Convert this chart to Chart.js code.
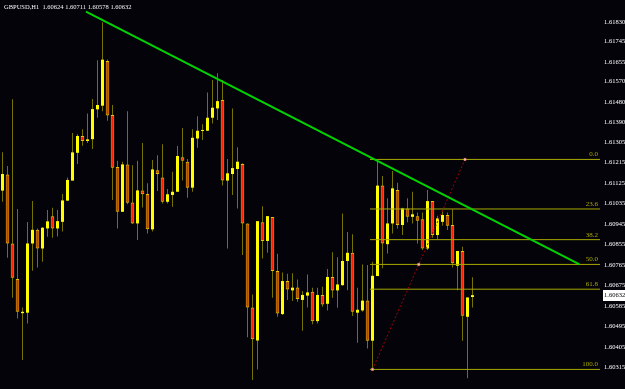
<!DOCTYPE html>
<html>
<head>
<meta charset="utf-8">
<script src="https://cdn.jsdelivr.net/npm/chart.js@4.4.1/dist/chart.umd.min.js"></script>
<style>
html,body{margin:0;padding:0;background:#04030a;overflow:hidden;}
#wrap{width:625px;height:389px;position:relative;}
canvas{display:block;background:#04030a;}
</style>
</head>
<body>
<div id="wrap"><canvas id="c" width="625" height="389"></canvas></div>
<script>
// ---------- data ----------
const symbolTitle = "GBPUSD,H1";
const opens = [1.61091,1.61162,1.60859,1.60703,1.60553,1.60555,1.60859,1.60919,1.60837,1.60925,
1.60979,1.60925,1.60954,1.61047,1.61135,1.61257,1.61331,1.61309,1.61317,1.61448,
1.61464,1.61660,1.61423,1.61195,1.60998,1.61206,1.61039,1.60947,1.61092,1.61076,
1.60921,1.61181,1.61149,1.61042,1.61072,1.61086,1.61238,1.61218,1.61104,1.61320,
1.61353,1.61354,1.61411,1.61452,1.61489,1.61135,1.61164,1.61186,1.61208,1.60947,
1.60578,1.60433,1.60952,1.60870,1.60975,1.60738,1.60549,1.60694,1.60653,1.60666,
1.60611,1.60630,1.60647,1.60518,1.60633,1.60594,1.60712,1.60653,1.60676,1.60782,
1.60818,1.60555,1.60565,1.60609,1.60432,1.60716,1.61113,1.60856,1.60947,1.61094,
1.60940,1.61013,1.60976,1.60979,1.60965,1.60837,1.61045,1.60896,1.60954,1.60984,
1.60940,1.60761,1.60826,1.60537,1.60624];
const highs = [1.61259,1.61199,1.61492,1.61010,1.60578,1.60953,1.61045,1.60925,1.60931,1.61006,
1.61016,1.61006,1.61076,1.61149,1.61344,1.61338,1.61360,1.61430,1.61493,1.61664,
1.61830,1.61667,1.61467,1.61222,1.61218,1.61440,1.61202,1.61222,1.61300,1.61123,
1.61225,1.61246,1.61295,1.61098,1.61174,1.61287,1.61366,1.61230,1.61361,1.61418,
1.61382,1.61522,1.61577,1.61606,1.61577,1.61230,1.61452,1.61281,1.61211,1.60947,
1.60635,1.60957,1.61022,1.60979,1.60975,1.60814,1.60731,1.60726,1.60728,1.60701,
1.60650,1.60723,1.60665,1.60665,1.60669,1.60747,1.60820,1.60799,1.60991,1.60909,
1.60900,1.60665,1.60767,1.60764,1.60779,1.61228,1.61155,1.61057,1.61177,1.61126,
1.61016,1.61057,1.61086,1.60995,1.60995,1.61094,1.61045,1.60981,1.61001,1.60995,
1.61009,1.60826,1.60845,1.60622,1.60711];
const lows = [1.61042,1.60796,1.60621,1.60530,1.60347,1.60508,1.60739,1.60753,1.60779,1.60889,
1.60884,1.60890,1.60911,1.61047,1.61135,1.61208,1.61288,1.61300,1.61274,1.61411,
1.61440,1.61398,1.61050,1.60925,1.60998,1.61031,1.60944,1.60874,1.61017,1.60903,
1.60911,1.61089,1.61035,1.61035,1.61020,1.61086,1.61135,1.61060,1.61086,1.61279,
1.61313,1.61353,1.61386,1.61401,1.61113,1.60837,1.61072,1.61013,1.60808,1.60447,
1.60259,1.60306,1.60793,1.60818,1.60621,1.60537,1.60545,1.60611,1.60606,1.60603,
1.60476,1.60578,1.60504,1.60508,1.60581,1.60565,1.60621,1.60577,1.60673,1.60654,
1.60540,1.60423,1.60559,1.60398,1.60306,1.60716,1.60750,1.60815,1.60903,1.60925,
1.60896,1.60952,1.60947,1.60859,1.60830,1.60830,1.60884,1.60878,1.60937,1.60918,
1.60753,1.60654,1.60432,1.60267,1.60578];
const closes = [1.61164,1.60859,1.60709,1.60559,1.60559,1.60859,1.60919,1.60837,1.60928,1.60956,
1.60925,1.60957,1.61048,1.61138,1.61259,1.61331,1.61309,1.61316,1.61449,1.61467,
1.61666,1.61421,1.61192,1.60998,1.61206,1.61038,1.60947,1.61092,1.61075,1.60921,
1.61184,1.61164,1.61042,1.61075,1.61086,1.61243,1.61222,1.61104,1.61323,1.61354,
1.61357,1.61411,1.61455,1.61484,1.61136,1.61167,1.61190,1.61218,1.60947,1.60578,
1.60438,1.60957,1.60870,1.60979,1.60738,1.60552,1.60694,1.60657,1.60665,1.60615,
1.60633,1.60644,1.60518,1.60633,1.60591,1.60712,1.60653,1.60679,1.60782,1.60818,
1.60559,1.60568,1.60608,1.60432,1.60717,1.61113,1.60859,1.60947,1.61101,1.60940,
1.61013,1.60976,1.60987,1.60959,1.60837,1.61045,1.60896,1.60969,1.60984,1.60937,
1.60772,1.60826,1.60542,1.60622,1.60632];
const yTicks = [1.61830,1.61745,1.61655,1.61570,1.61480,1.61390,1.61305,1.61215,1.61125,
1.61035,1.60945,1.60855,1.60765,1.60675,1.60585,1.60495,1.60405,1.60315];
const fibLevels = [0, 23.6, 38.2, 50.0, 61.8, 100.0];
const fibLabels = ["0.0","23.6","38.2","50.0","61.8","100.0"];
const fibHigh = 1.61228, fibLow = 1.60306;
const fibLineX = [73.5, 119.5];
const fibAnchorX = [74, 92.5];
const trendX = [16.7, 115.4];
const trendY = [1.61877, 1.60767];
const slotCount = 120;
const yMin = 1.60220, yMax = 1.61928;

// ---------- build ----------
const FONT = '"Liberation Serif", "Times New Roman", serif';
const BULL = '#ffff00', BEAR = '#ff1e00', BEAR_EDGE = '#e8c000', WICK = '#767200';
const idx = opens.map((_, i) => i);
const isBull = idx.map(i => closes[i] >= opens[i]);
const bullData = idx.filter(i => isBull[i]).map(i => ({x: i, y: [opens[i], closes[i]]}));
const bearData = idx.filter(i => !isBull[i]).map(i => ({x: i, y: [opens[i], closes[i]]}));
const wickData = idx.map(i => ({x: i, y: [lows[i], highs[i]]}));

const fibDatasets = fibLevels.map(lv => {
  const p = fibHigh - (fibHigh - fibLow) * lv / 100;
  return {
    type: 'line', order: 5,
    data: [{x: fibLineX[0], y: p}, {x: fibLineX[1], y: p}],
    borderColor: '#a8a800', borderWidth: 1, pointRadius: 0, pointHoverRadius: 0
  };
});
const fibMid = (fibHigh + fibLow) / 2;

const overlay = {
  id: 'overlay',
  afterDraw(chart) {
    const {ctx, scales: {x, y}} = chart;
    ctx.save();
    // fib labels
    ctx.font = '7px ' + FONT;
    ctx.fillStyle = '#a8a800';
    ctx.textAlign = 'right';
    ctx.textBaseline = 'bottom';
    fibLevels.forEach((lv, k) => {
      const p = fibHigh - (fibHigh - fibLow) * lv / 100;
      ctx.fillText(fibLabels[k], x.getPixelForValue(fibLineX[1]) - 2, Math.round(y.getPixelForValue(p)) - 1);
    });
    // title
    const n = opens.length - 1;
    ctx.font = '6.5px ' + FONT;
    ctx.fillStyle = '#f4f4f4';
    ctx.textAlign = 'left';
    ctx.textBaseline = 'middle';
    ctx.fillText(symbolTitle + '  ' + [opens[n], highs[n], lows[n], closes[n]].map(v => v.toFixed(5)).join(' '), 4, 7);
    // current price box
    const py = Math.round(y.getPixelForValue(closes[n]));
    ctx.fillStyle = '#ffffff';
    ctx.fillRect(603, py - 5, 22, 11);
    ctx.fillStyle = '#000000';
    ctx.font = '6.5px ' + FONT;
    ctx.fillText(closes[n].toFixed(5), 604, py + 0.5);
    ctx.restore();
  }
};

new Chart(document.getElementById('c'), {
  type: 'bar',
  data: {
    datasets: [
      {
        type: 'line', order: 2,
        data: [{x: trendX[0], y: trendY[0]}, {x: trendX[1], y: trendY[1]}],
        borderColor: '#00d400', borderWidth: 2, pointRadius: 0, pointHoverRadius: 0
      },
      {
        type: 'line', order: 3,
        data: [{x: fibAnchorX[0], y: fibLow}, {x: fibAnchorX[1], y: fibHigh}],
        borderColor: '#a00000', borderWidth: 1, borderDash: [2, 2], pointRadius: 0, pointHoverRadius: 0
      },
      {
        type: 'scatter', order: 1,
        data: [{x: fibAnchorX[0], y: fibLow}, {x: (fibAnchorX[0] + fibAnchorX[1]) / 2, y: fibMid}, {x: fibAnchorX[1], y: fibHigh}],
        pointStyle: 'rect', pointRadius: 1.5, pointHoverRadius: 1.5,
        backgroundColor: '#ffc8c8', borderColor: '#ff8080', borderWidth: 0.5
      },
      ...fibDatasets,
      {
        type: 'bar', order: 9, grouped: false,
        data: bullData,
        maxBarThickness: 3,
        backgroundColor: BULL, borderWidth: 0, minBarLength: 1
      },
      {
        type: 'bar', order: 9, grouped: false,
        data: bearData,
        maxBarThickness: 4,
        backgroundColor: BEAR, borderColor: BEAR_EDGE,
        borderWidth: 1, borderSkipped: false, minBarLength: 1
      },
      {
        type: 'bar', order: 10, grouped: false,
        data: wickData,
        maxBarThickness: 1,
        backgroundColor: WICK, borderWidth: 0
      }
    ]
  },
  options: {
    responsive: false,
    animation: false,
    events: [],
    layout: {padding: 0, autoPadding: false},
    plugins: {legend: {display: false}, tooltip: {enabled: false}, title: {display: false}},
    scales: {
      x: {
        type: 'linear', min: -0.5, max: slotCount - 0.5, display: false, offset: false
      },
      y: {
        type: 'linear', position: 'right', min: yMin, max: yMax,
        grid: {display: false, drawTicks: false},
        border: {display: false},
        afterBuildTicks: s => { s.ticks = yTicks.map(v => ({value: v})); },
        afterFit: s => { s.width = 25; s.paddingTop = 0; s.paddingBottom = 0; },
        ticks: {
          autoSkip: false, padding: 4, color: '#ffffff',
          font: {family: FONT, size: 6.5},
          callback: v => Number(v).toFixed(5)
        }
      }
    }
  },
  plugins: [overlay]
});
</script>
</body>
</html>
